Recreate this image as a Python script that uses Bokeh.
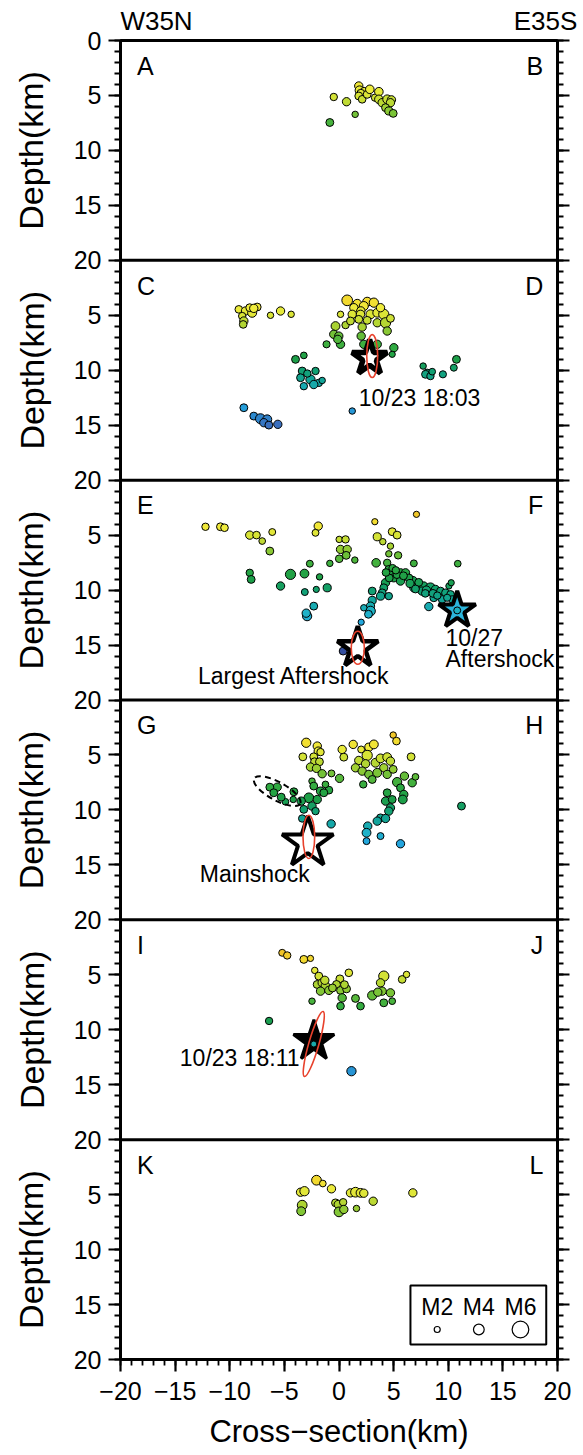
import numpy as np
from bokeh.plotting import figure
from bokeh.models import (Range1d, LinearAxis, FixedTicker, Span, ColumnDataSource,
                          LinearColorMapper, LinearInterpolator)
from bokeh.transform import transform
from bokeh.core.properties import value
from bokeh.embed import file_html
from bokeh.resources import INLINE

FONT = "Liberation Sans"

# ---------------- data ----------------
x_ticks = [-20, -15, -10, -5, 0, 5, 10, 15, 20]
x_tick_labels = ["\u221220", "\u221215", "\u221210", "\u22125", "0", "5", "10", "15", "20"]
depth_ticks = [0, 5, 10, 15, 20]
depth_tick_labels = ["0", "5", "10", "15", "20"]
y_title = "Depth(km)"
x_title = "Cross\u2212section(km)"
end_labels = ["W35N", "E35S"]

letters_left = ["A", "C", "E", "G", "I", "K"]
letters_right = ["B", "D", "F", "H", "J", "L"]

# panel A-B
p1_x = [-0.84, -0.48, 0.69, 1.48, 1.81, 1.88, 2.3, 2.0, 1.81, 2.12,
        2.58, 2.82, 3.3, 3.65, 3.65, 3.95, 4.41, 4.8, 4.71, 4.26, 4.56, 4.96]
p1_d = [7.46, 5.14, 5.57, 6.72, 4.14, 4.53, 4.6, 4.8, 5.05, 5.35,
        4.9, 4.44, 5.2, 4.66, 5.35, 5.66, 5.35, 5.4, 5.66, 6.11, 6.41, 6.63]
p1_m = [2.8, 2.6, 3.0, 2.2, 3.0, 3.2, 2.6, 2.8, 2.8, 2.7,
        2.8, 3.1, 2.6, 3.1, 3.1, 3.0, 3.2, 3.0, 3.0, 2.8, 2.9, 2.8]

# panel C-D
p2_x = [-9.17, -8.56, -7.95, -7.49, -8.17, -7.8, -8.86, -8.71, -8.77, -6.27, -5.35, -4.38,
        0.75, 1.67, 2.58, 3.19, 2.27, 1.36, 2.0, 1.21, 1.97, 2.88, 3.5, 4.1, 3.8, 0.14, 2.58, 3.5,
        4.26, 4.71, 4.41, 0.6, -0.32, 2.12, 1.81, 1.05,
        -0.48, -0.02, 0.14, -0.11, -1.14, 2.03, 2.27, 3.5, 5.02, 4.87,
        -3.98, -3.22, -3.37, -3.52, -2.61, -2.15, -1.85, -1.54, -3.22, -2.31, -2.9,
        -8.71, -7.8, -7.19, -6.57, -6.88, -6.42, -5.6, 1.21,
        7.7, 8.07, 7.92, 8.37, 8.53, 9.51, 10.51, 10.75]
p2_d = [4.46, 4.61, 4.77, 4.25, 4.31, 4.37, 5.07, 5.52, 5.83, 5.0, 4.61, 4.91,
        3.64, 3.95, 3.77, 3.85, 4.16, 4.31, 4.6, 4.91, 4.91, 4.91, 4.77, 4.91, 4.31, 4.91, 5.46, 5.68,
        5.68, 5.28, 6.43, 5.89, 5.98, 6.07, 5.37, 5.52,
        6.73, 6.89, 7.64, 7.19, 7.64, 6.89, 7.64, 7.64, 7.95, 8.55,
        9.01, 8.65, 10.07, 10.68, 10.84, 10.07, 11.15, 10.93, 11.45, 11.3, 10.3,
        13.41, 14.17, 14.41, 14.47, 14.77, 14.99, 14.92, 13.71,
        9.62, 10.23, 10.37, 10.53, 10.13, 10.37, 9.77, 9.01]
p2_m = [2.7, 3.0, 3.3, 2.8, 2.8, 3.0, 2.6, 3.0, 2.7, 2.2, 3.0, 2.2,
        4.0, 3.2, 3.3, 3.4, 3.3, 3.0, 3.0, 3.0, 3.0, 3.3, 3.2, 3.8, 3.0, 2.2, 2.8, 3.0,
        3.8, 2.8, 3.0, 2.6, 3.2, 3.0, 2.8, 2.8,
        3.0, 3.0, 3.0, 3.0, 2.5, 3.0, 3.0, 3.0, 3.0, 2.1,
        2.8, 2.3, 2.8, 2.8, 3.4, 2.6, 2.6, 2.2, 2.6, 3.0, 2.6,
        2.8, 2.8, 3.7, 3.3, 3.0, 2.8, 3.0, 2.2,
        2.2, 2.6, 2.8, 2.6, 2.3, 2.5, 2.4, 2.8]

# panel E-F
p3_x = [-12.22, -10.85, -10.48, -8.17, -7.55, -6.11, -7.03, -6.33, -1.9, -2.15,
        -8.17, -8.04, -4.44, -5.35, -3.16, -2.67, -1.78, -1.08, -2.08, -3.13,
        -2.31, -2.92, -3.0, 0.02, 0.6, 0.14, 0.75, 0.66, 0.02, -0.84,
        1.45, 3.28, 3.5, 4.01, 4.87, 5.32, 4.71, 7.09, 3.4, 4.56,
        5.41, 6.85, 10.87, 4.41, 4.56, 4.71, 5.02, 5.63, 6.09, 5.63,
        6.76, 7.15, 7.76, 8.37, 8.83, 9.29, 9.75, 10.21, 10.36, 9.44,
        8.68, 7.6, 6.85, 10.06, 10.27, 4.9, 5.3, 6.4, 7.3, 8.0,
        4.26, 4.1, 3.95, 3.8, 3.04, 3.04, 2.88, 2.88, 2.27, 2.03,
        8.22, 4.56, 2.7, 0.38,
        5.2, 5.9, 6.5, 7.0, 7.9, 8.6, 9.0, 9.9, 4.6, 4.3]
p3_d = [4.24, 4.24, 4.33, 5.0, 5.0, 4.72, 5.54, 6.45, 4.18, 4.79,
        8.43, 9.03, 8.57, 9.63, 8.5, 7.6, 8.8, 9.79, 9.94, 10.18,
        11.46, 12.37, 12.1, 5.39, 5.39, 6.3, 6.3, 6.84, 7.15, 7.57,
        7.27, 3.78, 5.15, 5.6, 4.69, 5.0, 6.0, 3.11, 7.52, 6.7,
        6.84, 7.57, 7.6, 7.52, 8.12, 8.57, 8.88, 8.43, 8.43, 9.18,
        9.18, 9.63, 9.63, 9.79, 9.94, 10.09, 10.25, 10.39, 10.85, 10.85,
        10.7, 10.09, 9.79, 9.63, 9.33, 8.0, 8.6, 8.9, 9.3, 10.0,
        9.33, 9.79, 10.25, 10.55, 10.09, 10.94, 11.46, 11.91, 11.61, 12.92,
        11.5, 10.55, 12.2, 15.55,
        8.2, 8.7, 9.4, 9.9, 10.3, 10.3, 10.5, 10.7, 8.9, 8.4]
p3_m = [2.6, 2.8, 2.7, 3.0, 2.7, 2.4, 2.3, 2.8, 3.0, 2.4,
        2.6, 2.8, 3.8, 3.0, 3.2, 2.4, 2.2, 2.9, 2.1, 2.4,
        2.8, 3.4, 3.0, 2.2, 2.6, 3.0, 3.0, 2.8, 2.7, 2.2,
        2.2, 2.1, 2.9, 2.2, 2.8, 2.8, 2.2, 2.1, 3.1, 2.2,
        2.6, 2.4, 2.3, 2.6, 2.8, 2.9, 3.0, 3.0, 3.0, 3.0,
        3.4, 3.0, 3.0, 3.6, 3.0, 2.8, 2.8, 2.7, 2.6, 2.7,
        2.8, 3.0, 3.0, 2.1, 2.1, 2.6, 2.7, 2.8, 2.8, 3.0,
        3.0, 2.8, 2.8, 2.9, 2.8, 2.9, 3.0, 3.6, 2.2, 2.1,
        3.0, 2.6, 2.8, 2.8,
        2.6, 2.8, 2.9, 2.8, 2.7, 2.8, 2.6, 2.5, 2.8, 2.7]

# panel G-H
p4_x = [-3.0, -1.99, -1.9, -3.31, -2.31, -1.69, -2.24, -1.79, -2.61, -2.06,
        -1.54, -0.69, 0.05, -2.47, -2.31, -1.69, -0.93, -2.76, -1.99, -2.47,
        -2.15, -3.22, -3.46, -4.13, -4.19, -4.9, -5.29, -5.66, -6.33, -5.97,
        -3.37, -0.72, -1.39, -1.24,
        0.29, 0.44, 1.3, 2.03, 2.73, 3.19, 2.58, 1.81, 2.43, 1.51,
        2.12, 2.73, 3.34, 3.8, 4.41, 4.71, 4.1, 3.5, 4.41, 4.96,
        4.96, 5.26, 6.6, 2.22, 3.04, 5.32, 5.99, 6.7, 7.0, 5.63,
        5.93, 4.41, 4.26, 4.87, 5.84, 4.71, 4.56, 3.8, 4.26, 3.5,
        2.63, 2.52, 2.52, 3.8, 5.63, 11.21]
p4_d = [3.89, 4.19, 4.65, 5.17, 5.17, 4.74, 5.62, 5.62, 6.1, 6.22,
        6.71, 6.68, 7.13, 7.38, 7.83, 8.29, 8.2, 8.9, 9.05, 9.65,
        10.11, 9.95, 9.2, 8.35, 9.05, 9.26, 8.84, 7.93, 7.93, 8.44,
        10.78, 11.27, 8.44, 7.68,
        4.5, 5.2, 4.04, 4.5, 4.29, 4.04, 5.04, 5.5, 5.8, 6.17,
        6.47, 6.77, 5.71, 5.31, 5.2, 5.56, 6.17, 6.62, 6.77, 6.31,
        3.19, 3.74, 5.17, 7.68, 7.23, 7.47, 6.92, 7.53, 6.99, 7.99,
        8.59, 8.44, 9.2, 9.05, 9.05, 9.81, 10.11, 10.72, 10.78, 11.02,
        11.47, 12.08, 12.84, 12.38, 13.08, 9.65]
p4_m = [3.4, 3.0, 3.0, 2.8, 2.8, 2.6, 2.8, 2.8, 3.0, 3.0,
        3.0, 2.4, 3.0, 2.2, 2.8, 3.0, 2.8, 3.6, 3.0, 3.0,
        2.6, 2.8, 3.0, 2.8, 2.2, 2.3, 2.8, 3.0, 2.8, 2.8,
        2.6, 3.0, 2.8, 2.3,
        3.0, 2.8, 3.0, 2.4, 2.9, 3.2, 3.8, 3.0, 3.0, 3.0,
        3.0, 3.0, 3.2, 3.2, 3.2, 3.0, 3.0, 3.2, 3.0, 2.8,
        2.2, 2.7, 2.8, 2.6, 2.8, 3.4, 3.0, 3.0, 2.3, 2.8,
        3.0, 2.8, 3.0, 2.8, 3.2, 3.0, 3.0, 2.8, 3.0, 3.0,
        3.0, 3.2, 2.4, 2.4, 3.0, 2.8]

# panel I-J
p5_x = [-5.2, -4.74, -3.22, -2.61, -2.22, -1.85, -2.0, -1.54, -1.24, -1.69,
        -0.93, 0.08, -0.23, 0.9, 0.14, 0.69, 0.29, 0.14, 1.51, 1.97,
        -2.47, 4.1, 3.8, 3.04, 3.95, 4.71, 4.87, 4.1, 5.78, 6.18,
        3.55, -6.4, 1.14, -1.3, -0.6, 0.5]
p5_d = [3.0, 3.24, 3.6, 3.51, 4.6, 5.12, 5.88, 5.73, 6.03, 6.49,
        6.42, 5.37, 5.88, 4.82, 6.42, 6.28, 7.1, 7.85, 7.15, 7.85,
        7.4, 5.12, 5.73, 6.88, 6.49, 6.64, 7.4, 7.55, 5.42, 4.97,
        6.58, 9.2, 13.77, 5.5, 6.2, 5.9]
p5_m = [2.4, 2.6, 2.8, 2.1, 2.2, 2.8, 2.8, 3.0, 3.2, 3.0,
        3.0, 2.8, 2.8, 2.7, 2.8, 2.8, 3.0, 2.7, 2.8, 2.7,
        2.2, 3.8, 3.0, 3.4, 3.0, 3.0, 2.3, 2.8, 2.7, 2.2,
        3.0, 2.6, 3.4, 3.0, 2.8, 2.8]

# panel K-L
p6_x = [-2.06, -1.48, -0.69, -3.52, -3.16, -3.37, -3.46, -0.32, -0.07, 0.38,
        0.0, 0.44, 1.05, 1.51, 1.97, 2.27, 1.6, 3.13, 6.76]
p6_d = [3.69, 3.99, 4.47, 4.78, 4.69, 5.96, 6.51, 5.75, 5.9, 5.69,
        6.57, 6.35, 4.84, 4.78, 4.84, 4.87, 6.26, 5.6, 4.84]
p6_m = [3.6, 2.3, 3.0, 3.0, 3.4, 3.6, 3.2, 2.8, 3.0, 2.6,
        3.6, 3.0, 3.0, 3.6, 3.2, 3.0, 2.2, 3.0, 3.0]

# key events (stars): panel index, position
star_panel = [1, 2, 2, 3, 4]
star_x = [2.8, 1.72, 10.82, -2.86, -2.3]
star_d = [8.9, 15.25, 11.85, 12.99, 11.04]

# events plotted on top of stars
top_panel = [2, 4]
top_x = [10.82, -2.31]
top_d = [11.85, 11.3]
top_m = [2.4, 2.0]

# location error ellipses (km)
ell_panel = [1, 2, 3, 4]
ell_x = [3.04, 1.72, -2.76, -2.31]
ell_d = [8.71, 15.25, 12.45, 11.3]
ell_w = [1.0, 1.2, 1.07, 0.92]
ell_h = [3.9, 3.0, 3.94, 6.15]
ell_angle = [0.0, 0.0, 0.0, -0.28]

# dashed ellipse (panel G-H)
dash_x, dash_d, dash_w, dash_h, dash_angle = [-5.66], [8.29], [4.8], [1.65], [-0.5]

# annotations
ann_panel = [1, 2, 2, 2, 3, 4]
ann_x = [1.81, -4.14, 9.75, 9.75, -12.74, -14.57]
ann_d = [12.5, 17.83, 14.34, 16.3, 15.8, 12.56]
ann_text = ["10/23 18:03", "Largest Aftershock", "10/27", "Aftershock", "Mainshock", "10/23 18:11"]
ann_align = ["left", "center", "left", "left", "left", "left"]

legend_mags = [2, 4, 6]
legend_labels = ["M2", "M4", "M6"]

panels = [(p1_x, p1_d, p1_m), (p2_x, p2_d, p2_m), (p3_x, p3_d, p3_m),
          (p4_x, p4_d, p4_m), (p5_x, p5_d, p5_m), (p6_x, p6_d, p6_m)]
NP = len(panels)
DMAX = 20

# ---------------- styles ----------------
stops_d = [3.0, 3.7, 4.3, 5.0, 6.0, 7.0, 8.0, 9.0, 10.0, 11.0, 12.0, 13.0, 14.0, 15.0, 16.0]
stops_c = ["#f0c428", "#f2dc30", "#efec3c", "#d8e436", "#a8d232", "#5cba3a", "#2aa842",
           "#1c9e48", "#12a06e", "#12a49c", "#1eb2c6", "#22a6de", "#2890d2", "#3a6fbe", "#2e388a"]


def _rgb(h):
    return [int(h[i:i + 2], 16) for i in (1, 3, 5)]


_grid = np.linspace(3.0, 16.0, 131)
_cols = np.array([_rgb(c) for c in stops_c], dtype=float)
palette = []
for g in _grid:
    r, gg, b = (np.interp(g, stops_d, _cols[:, j]) for j in range(3))
    palette.append("#%02x%02x%02x" % (int(round(r)), int(round(gg)), int(round(b))))
cmap = LinearColorMapper(palette=palette, low=3.0, high=16.0)
size_map = LinearInterpolator(x=[2, 4, 6], y=[6.0, 10.7, 16.7])

star_size = [37, 43, 39, 54, 43]
star_fill = ["white", "white", "#2cb6dc", "white", "black"]
star_lw = [5.5, 4.5, 4, 4, 3]

# ---------------- figure ----------------
FW, FH = 437, 1319
TOT = DMAX * NP
p = figure(frame_width=FW, frame_height=FH, x_range=Range1d(-20, 20),
           y_range=Range1d(TOT, 0), output_backend="svg", toolbar_location=None,
           min_border_left=120, min_border_right=26, min_border_top=40, min_border_bottom=10,
           background_fill_color="white", border_fill_color="white")
p.grid.visible = False
p.outline_line_color = "black"
p.outline_line_width = 3
p.outline_line_alpha = 1

xa = p.below[0]
ya = p.left[0]

p.extra_y_ranges = {f"p{k}": Range1d(start=TOT - DMAX * k, end=-DMAX * k) for k in range(NP)}
p.extra_x_ranges = {"px": Range1d(0, FW)}

# y ticks: stacked panels
y_major, y_labels = [], {}
for k in range(NP):
    for t, lab in zip(depth_ticks, depth_tick_labels):
        s = DMAX * k + t
        if s in y_labels:
            continue
        y_major.append(s)
        y_labels[s] = lab
y_minor = list(range(0, TOT + 1))


def style_axis(ax, label_size="25px"):
    ax.axis_line_width = 3
    ax.major_tick_line_width = 2.2
    ax.minor_tick_line_width = 1.8
    ax.major_tick_in = 0
    ax.minor_tick_in = 0
    ax.major_tick_out = 12
    ax.minor_tick_out = 6
    ax.major_label_text_font = FONT
    ax.major_label_text_font_size = label_size
    ax.major_label_text_color = "black"
    ax.axis_label_text_font = FONT
    ax.axis_label_text_font_style = "normal"
    ax.axis_label_text_color = "black"


def bare_axis(ax):
    ax.axis_line_color = None
    ax.major_tick_line_color = None
    ax.minor_tick_line_color = None
    ax.major_tick_out = 0
    ax.major_tick_in = 0
    ax.minor_tick_out = 0
    ax.minor_tick_in = 0
    ax.major_label_text_font = FONT
    ax.major_label_text_color = "black"


ya.ticker = FixedTicker(ticks=y_major, minor_ticks=y_minor)
ya.major_label_overrides = y_labels
style_axis(ya)
ya.major_label_standoff = 7

xa.ticker = FixedTicker(ticks=x_ticks, minor_ticks=list(range(-20, 21)))
xa.major_label_overrides = {t: lab for t, lab in zip(x_ticks, x_tick_labels)}
style_axis(xa)
xa.major_label_standoff = 10
xa.axis_label = x_title
xa.axis_label_text_font_size = "31px"
xa.axis_label_standoff = 11

# panel titles "Depth(km)" as a second (outer) left axis, one label per panel centre
centers = [DMAX * k + DMAX // 2 for k in range(NP)]
da = LinearAxis(ticker=FixedTicker(ticks=centers, minor_ticks=[]))
bare_axis(da)
da.major_label_overrides = {c: y_title for c in centers}
da.major_label_orientation = "vertical"
da.major_label_text_font_size = "34px"
da.major_label_standoff = 20
p.add_layout(da, "left")

# right ticks without labels
ra = LinearAxis(ticker=FixedTicker(ticks=y_major, minor_ticks=y_minor))
style_axis(ra)
ra.major_label_overrides = {s: "" for s in y_major}
ra.major_label_standoff = 0
p.add_layout(ra, "right")

# top end labels
end_pos = [36, 425]
ta = LinearAxis(ticker=FixedTicker(ticks=end_pos, minor_ticks=[]), x_range_name="px")
bare_axis(ta)
ta.major_label_overrides = {t: lab for t, lab in zip(end_pos, end_labels)}
ta.major_label_text_font_size = "26px"
ta.major_label_standoff = 5
p.add_layout(ta, "above")

# panel separators
for k in range(1, NP):
    p.add_layout(Span(location=DMAX * k, dimension="width", line_color="black", line_width=3))

# events
for k, (xs, ds, ms) in enumerate(panels):
    rn = f"p{k}"
    src = ColumnDataSource(dict(x=xs, d=ds, m=ms))
    p.scatter(x="x", y="d", source=src, size=transform("m", size_map),
              fill_color=transform("d", cmap), line_color="black", line_width=1,
              y_range_name=rn)
    p.text(x=[-18.5], y=[2.3], text=[letters_left[k]], text_align="left", text_baseline="middle",
           text_font=value(FONT), text_font_size="25px", text_color="black", y_range_name=rn)
    p.text(x=[18.7], y=[2.3], text=[letters_right[k]], text_align="right", text_baseline="middle",
           text_font=value(FONT), text_font_size="25px", text_color="black", y_range_name=rn)

# annotations
for k, xv, dv, tx, al in zip(ann_panel, ann_x, ann_d, ann_text, ann_align):
    p.text(x=[xv], y=[dv], text=[tx], text_align=al, text_baseline="middle",
           text_font=value(FONT), text_font_size="23px", text_color="black",
           y_range_name=f"p{k}")

# stars
for k, xv, dv, sz, fc, lw in zip(star_panel, star_x, star_d, star_size, star_fill, star_lw):
    p.scatter(x=[xv], y=[dv], marker="star", size=sz, fill_color=fc, line_color="black",
              line_width=lw, y_range_name=f"p{k}")

# events on top of stars
for k, xv, dv, mv in zip(top_panel, top_x, top_d, top_m):
    src = ColumnDataSource(dict(x=[xv], d=[dv], m=[mv]))
    p.scatter(x="x", y="d", source=src, size=transform("m", size_map),
              fill_color=transform("d", cmap), line_color="black", line_width=1,
              y_range_name=f"p{k}")

# error ellipses
for k, xv, dv, w, h, a in zip(ell_panel, ell_x, ell_d, ell_w, ell_h, ell_angle):
    p.ellipse(x=[xv], y=[dv], width=[w], height=[h], angle=[a], fill_color=None,
              line_color="#e8412c", line_width=1.6, y_range_name=f"p{k}")
p.ellipse(x=dash_x, y=dash_d, width=dash_w, height=dash_h, angle=dash_angle, fill_color=None,
          line_color="black", line_width=2, line_dash="6 4", y_range_name="p3")

# magnitude legend (panel K-L)
LG = f"p{NP - 1}"
p.quad(left=[6.54], right=[18.97], top=[13.27], bottom=[18.63], fill_color="white",
       line_color="black", line_width=2, y_range_name=LG)
lg_x = [8.99, 12.8, 16.61]
p.text(x=lg_x, y=[15.24] * 3, text=legend_labels, text_align="center", text_baseline="middle",
       text_font=value(FONT), text_font_size="23px", text_color="black", y_range_name=LG)
lsrc = ColumnDataSource(dict(x=lg_x, d=[17.27] * 3, m=legend_mags))
p.scatter(x="x", y="d", source=lsrc, size=transform("m", size_map), fill_color="white",
          line_color="black", line_width=1.2, y_range_name=LG)

open("out.html", "w").write(file_html(p, INLINE))
